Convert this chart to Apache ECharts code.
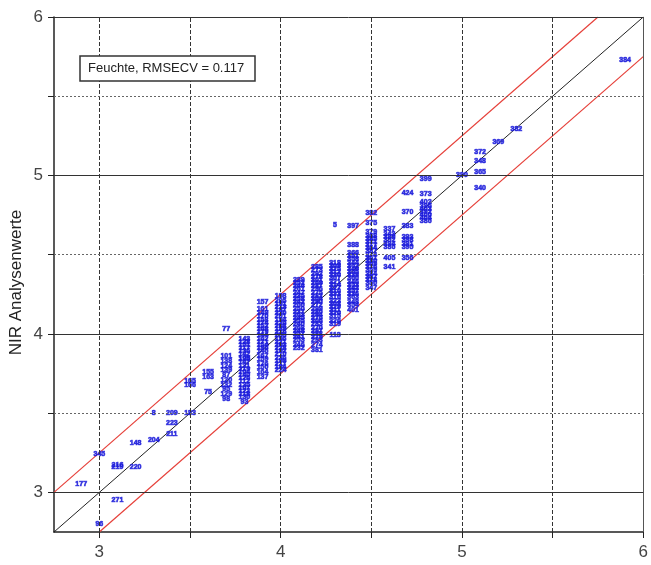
<!DOCTYPE html>
<html lang="de">
<head>
   <meta charset="utf-8">
   <style>
      html,
      body {
         margin: 0;
         padding: 0;
         width: 100%;
         height: 100%;
         overflow: hidden;
         background: #fff;
      }
   </style>
</head>
<body>
   <div id="container" style="width: 651px; height: 565px;"></div>
   <script src="https://cdn.jsdelivr.net/npm/echarts@6/dist/echarts.min.js"></script>
   <script>
      // Referenzwerte (x) und zugehoerige NIR-Vorhersagen (y) mit Probennummern
      var refLevels = [2.9, 3.0, 3.1, 3.2, 3.3, 3.4, 3.5, 3.6, 3.7, 3.8, 3.9, 4.0, 4.1, 4.2, 4.3, 4.4, 4.5, 4.6, 4.7, 4.8, 5.0, 5.1, 5.2, 5.3, 5.9];

      var nirByLevel = [
         [3.05],
         [3.24, 2.80],
         [2.95, 3.16, 3.17],
         [3.16, 3.31],
         [3.33, 3.50],
         [3.50, 3.44, 3.37],
         [3.50, 3.68, 3.70],
         [3.63, 3.73, 3.76],
         [4.03, 3.86, 3.83, 3.80, 3.77, 3.74, 3.71, 3.68, 3.65, 3.62, 3.59],
         [3.97, 3.95, 3.93, 3.91, 3.89, 3.87, 3.85, 3.84, 3.82, 3.80, 3.78, 3.76, 3.74, 3.72, 3.70, 3.68, 3.66, 3.64, 3.62, 3.60, 3.57],
         [4.20, 4.16, 4.13, 4.11, 4.09, 4.07, 4.05, 4.03, 4.01, 3.99, 3.97, 3.95, 3.93, 3.91, 3.89, 3.86, 3.84, 3.81, 3.79, 3.76, 3.73],
         [4.24, 4.21, 4.19, 4.17, 4.15, 4.13, 4.11, 4.09, 4.07, 4.05, 4.03, 4.01, 3.99, 3.97, 3.95, 3.93, 3.91, 3.89, 3.87, 3.85, 3.83, 3.81, 3.79, 3.77],
         [4.34, 4.32, 4.30, 4.28, 4.26, 4.24, 4.22, 4.20, 4.18, 4.16, 4.14, 4.12, 4.10, 4.08, 4.06, 4.04, 4.02, 4.00, 3.98, 3.96, 3.93, 3.91],
         [4.42, 4.40, 4.38, 4.36, 4.34, 4.32, 4.30, 4.28, 4.26, 4.24, 4.22, 4.20, 4.18, 4.16, 4.14, 4.12, 4.10, 4.08, 4.06, 4.04, 4.02, 4.00, 3.98, 3.96, 3.93, 3.90],
         [4.69, 4.45, 4.43, 4.41, 4.39, 4.37, 4.35, 4.33, 4.31, 4.29, 4.27, 4.25, 4.23, 4.21, 4.19, 4.17, 4.15, 4.13, 4.11, 4.08, 4.06, 3.99],
         [4.68, 4.56, 4.51, 4.49, 4.47, 4.45, 4.43, 4.41, 4.39, 4.37, 4.35, 4.33, 4.31, 4.29, 4.27, 4.25, 4.23, 4.20, 4.18, 4.15],
         [4.76, 4.70, 4.64, 4.62, 4.60, 4.58, 4.56, 4.54, 4.52, 4.50, 4.48, 4.46, 4.44, 4.42, 4.40, 4.38, 4.36, 4.34, 4.32, 4.29],
         [4.66, 4.63, 4.61, 4.59, 4.57, 4.55, 4.48, 4.42],
         [4.89, 4.77, 4.68, 4.61, 4.59, 4.57, 4.55, 4.48],
         [4.98, 4.88, 4.83, 4.81, 4.79, 4.77, 4.75, 4.73, 4.71],
         [5.00],
         [5.15, 5.09, 5.02, 4.92],
         [5.21],
         [5.29],
         [5.73]
      ];

      var idsByLevel = [
         ['177'],
         ['345', '96'],
         ['271', '219', '216'],
         ['220', '148'],
         ['204', '8'],
         ['209', '223', '211'],
         ['183', '166', '165'],
         ['75', '163', '155'],
         ['77', '101', '138', '124', '139', '87', '120', '132', '95', '129', '98'],
         ['143', '128', '151', '117', '136', '142', '109', '125', '147', '131', '119', '104', '140', '126', '112', '135', '107', '122', '118', '130', '93'],
         ['157', '161', '149', '170', '158', '174', '152', '168', '179', '144', '162', '171', '154', '186', '146', '167', '159', '176', '150', '164', '137'],
         ['198', '205', '191', '213', '187', '230', '201', '194', '226', '208', '189', '215', '233', '196', '221', '203', '228', '192', '210', '236', '199', '217', '184', '224'],
         ['239', '252', '244', '261', '247', '235', '258', '242', '266', '250', '237', '263', '245', '255', '240', '268', '248', '257', '241', '253', '246', '232'],
         ['285', '273', '292', '278', '301', '269', '287', '296', '275', '282', '304', '290', '272', '299', '280', '294', '276', '306', '283', '270', '297', '288', '279', '293', '274', '381'],
         ['5', '318', '309', '325', '312', '330', '307', '321', '314', '327', '310', '333', '316', '323', '308', '329', '311', '320', '315', '326', '319', '113'],
         ['397', '388', '366', '351', '358', '344', '362', '349', '355', '339', '360', '346', '353', '342', '357', '336', '363', '348', '354', '401'],
         ['382', '375', '379', '368', '385', '371', '377', '364', '387', '374', '361', '380', '369', '376', '359', '384', '367', '378', '350', '347'],
         ['337', '343', '389', '352', '394', '386', '405', '341'],
         ['424', '370', '383', '393', '398', '391', '395', '356'],
         ['399', '373', '402', '396', '403', '392', '400', '404', '386'],
         ['390'],
         ['372', '348', '365', '340'],
         ['369'],
         ['382'],
         ['384']
      ];

      var axisMin = 2.75;
      var axisMax = 6;
      var band = 0.25; // Abstand der roten Linien zur Diagonale

      var tickValues = [3, 3.5, 4, 4.5, 5, 5.5, 6];
      var labelValues = [3, 4, 5, 6];
      var majorY = [3, 4, 5, 6];
      var minorY = [3.5, 4.5, 5.5];
      var gridX = [3, 3.5, 4, 4.5, 5, 5.5];

      var points = [];
      refLevels.forEach(function (ref, i) {
         nirByLevel[i].forEach(function (nir, j) {
            points.push([ref, nir, idsByLevel[i][j]]);
         });
      });

      var gridLines = [];
      gridX.forEach(function (v) {
         gridLines.push({ xAxis: v, lineStyle: { color: '#333', type: [4, 2], width: 1 } });
      });
      gridLines.push({ xAxis: axisMax, lineStyle: { color: '#555', type: 'solid', width: 1 } });
      majorY.forEach(function (v) {
         gridLines.push({ yAxis: v, lineStyle: { color: '#333', type: 'solid', width: 1 } });
      });
      minorY.forEach(function (v) {
         gridLines.push({ yAxis: v, lineStyle: { color: '#666', type: [2, 2], width: 1 } });
      });

      var font = 'Liberation Sans, Arial, sans-serif';

      var dom = document.getElementById('container');
      var myChart = echarts.init(dom, null, { renderer: 'canvas' });

      var option = {
         animation: false,
         backgroundColor: '#fff',
         grid: {
            left: 54,
            right: 5,
            top: 17,
            bottom: 33
         },
         xAxis: {
            type: 'value',
            min: axisMin,
            max: axisMax,
            axisLine: { lineStyle: { color: '#222', width: 1.5 } },
            axisTick: { customValues: tickValues, length: 6, lineStyle: { color: '#222' } },
            axisLabel: { customValues: labelValues, fontSize: 17, color: '#444', margin: 12, fontFamily: font },
            splitLine: { show: false }
         },
         yAxis: {
            type: 'value',
            min: axisMin,
            max: axisMax,
            axisLine: { lineStyle: { color: '#222', width: 1.5 } },
            axisTick: { customValues: tickValues, length: 6, lineStyle: { color: '#222' } },
            axisLabel: { customValues: labelValues, fontSize: 17, color: '#444', margin: 11, fontFamily: font },
            splitLine: { show: false }
         },
         graphic: [
            {
               type: 'text',
               left: 8,
               top: 'middle',
               rotation: Math.PI / 2,
               style: {
                  text: 'NIR Analysenwerte',
                  fontSize: 17,
                  fontFamily: font,
                  fill: '#222'
               }
            },
            {
               type: 'rect',
               shape: { x: 80, y: 56, width: 175, height: 25 },
               style: { fill: '#fff', stroke: '#333', lineWidth: 1.5 },
               z: 10
            },
            {
               type: 'text',
               x: 88,
               y: 68.5,
               style: {
                  text: 'Feuchte, RMSECV = 0.117',
                  fontSize: 13,
                  fontFamily: font,
                  fill: '#222',
                  verticalAlign: 'middle'
               },
               z: 11
            }
         ],
         series: [
            {
               type: 'line',
               data: [],
               silent: true,
               z: 1,
               markLine: {
                  silent: true,
                  symbol: 'none',
                  animation: false,
                  label: { show: false },
                  data: gridLines
               }
            },
            {
               name: 'Diagonale',
               type: 'line',
               data: [[axisMin, axisMin], [axisMax, axisMax]],
               showSymbol: false,
               silent: true,
               lineStyle: { color: '#222', width: 1 },
               z: 2
            },
            {
               name: 'Oben',
               type: 'line',
               data: [[axisMin, axisMin + band], [axisMax - band, axisMax]],
               showSymbol: false,
               silent: true,
               lineStyle: { color: '#e6403a', width: 1.2 },
               z: 2
            },
            {
               name: 'Unten',
               type: 'line',
               data: [[axisMin + band, axisMin], [axisMax, axisMax - band]],
               showSymbol: false,
               silent: true,
               lineStyle: { color: '#e6403a', width: 1.2 },
               z: 2
            },
            {
               name: 'Proben',
               type: 'scatter',
               data: points,
               symbolSize: 1,
               itemStyle: { color: 'rgba(0,0,0,0)' },
               label: {
                  show: true,
                  position: 'inside',
                  formatter: function (p) { return p.value[2]; },
                  fontSize: 7,
                  fontWeight: 'bold',
                  fontFamily: font,
                  color: '#1414d8',
                  textBorderColor: '#2a2ae0',
                  textBorderWidth: 0.7
               },
               z: 3
            }
         ]
      };

      myChart.setOption(option);
      window.addEventListener('resize', myChart.resize);
   </script>
</body>
</html>
